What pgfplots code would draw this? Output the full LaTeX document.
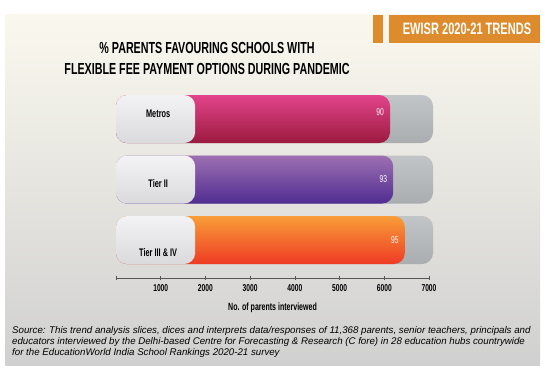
\documentclass[border=0pt]{standalone}
\usepackage{pgfplots}
\pgfplotsset{compat=1.18}
\usepackage{fontspec}
\setmainfont{Liberation Sans}
\newfontfamily\cond[FakeStretch=0.67]{Liberation Sans}
\definecolor{bgtop}{HTML}{FAF8EE}
\definecolor{bgmid}{HTML}{E8E8E6}
\definecolor{bgbot}{HTML}{D0D0D0}
\definecolor{orng}{HTML}{DD8B2C}
\definecolor{grTop}{HTML}{C2C5C7}
\definecolor{grBot}{HTML}{A9ADB0}
\definecolor{whTop}{HTML}{F3F3F5}
\definecolor{whBot}{HTML}{DADADC}
\definecolor{metTop}{HTML}{E2448A}
\definecolor{metBot}{HTML}{9A1A3F}
\definecolor{t2Top}{HTML}{9E70B2}
\definecolor{t2Bot}{HTML}{4F2D91}
\definecolor{t3Top}{HTML}{F99D38}
\definecolor{t3Bot}{HTML}{EE3B24}
\definecolor{axgray}{HTML}{555555}
\begin{document}
\begin{tikzpicture}[x=1pt,y=1pt]
\fill[white] (0,0) rectangle (545,370);
\shade[top color=bgtop, middle color=bgmid, bottom color=bgbot] (5,5) rectangle (540,355);
\fill[orng] (373,327) rectangle (383,355);
\fill[orng] (389,327) rectangle (540,355);
\node[text=white, font=\cond\bfseries\fontsize{16.5}{18}\selectfont] at (467,341) {EWISR 2020-21 TRENDS};
\node[align=center, font=\cond\bfseries\fontsize{16}{21}\selectfont] at (207,312) {\% PARENTS FAVOURING SCHOOLS WITH\\FLEXIBLE FEE PAYMENT OPTIONS DURING PANDEMIC};
\begin{axis}[
  at={(112pt,92pt)}, anchor=south west, scale only axis,
  width=321pt, height=189.2pt,
  xmin=-90, xmax=7090, ymin=0.372, ymax=3.5,
  clip=false,
  axis x line*=bottom, axis y line=none,
  x axis line style={shorten <=4pt, shorten >=4pt, draw=axgray, line width=0.7pt},
  xtick={0,1000,2000,3000,4000,5000,6000,7000},
  xticklabels={,1000,2000,3000,4000,5000,6000,7000},
  tick align=center, major tick length=4pt,
  tick style={axgray, line width=0.6pt},
  ytick=\empty,
  /pgf/number format/assume math mode=true,
  xticklabel style={font=\cond\bfseries\fontsize{10}{11}\selectfont, yshift=-0.5pt},
  xlabel={No. of parents interviewed},
  xlabel style={font=\cond\bfseries\fontsize{10.5}{12}\selectfont, yshift=-5pt},
  gb/.style={xbar, bar shift=0pt, bar width=48pt, draw=none, top color=grTop, bottom color=grBot, rounded corners=11pt},
  cb/.style={xbar, bar shift=0pt, bar width=48pt, draw=none, rounded corners=11pt,
     nodes near coords, point meta=explicit symbolic,
     every node near coord/.append style={anchor=east, xshift=-6pt, text=white, inner sep=0pt, font=\cond\fontsize{10}{11}\selectfont}},
  wb/.style={xbar, bar shift=0pt, bar width=48pt, draw=none, top color=whTop, middle color=white, bottom color=whBot, rounded corners=11pt,
     nodes near coords, point meta=explicit symbolic,
     every node near coord/.append style={anchor=center, xshift=-37pt, text=black, inner sep=0pt, font=\cond\bfseries\fontsize{11}{12}\selectfont}},
]
% gray background cylinders
\addplot[gb] coordinates {(7090,3)};
\addplot[gb] coordinates {(7090,2)};
\addplot[gb] coordinates {(7090,1)};
% coloured value bars
\addplot[cb, top color=metTop, bottom color=metBot, every node near coord/.append style={yshift=7pt}] coordinates {(6130,3) [90]};
\addplot[cb, top color=t2Top, bottom color=t2Bot] coordinates {(6200,2) [93]};
\addplot[cb, top color=t3Top, bottom color=t3Bot] coordinates {(6460,1) [95]};
% white label caps
\addplot[wb, every node near coord/.append style={yshift=5pt}] coordinates {(1770,3) [Metros]};
\addplot[wb, every node near coord/.append style={yshift=-4pt}] coordinates {(1770,2) [Tier II]};
\addplot[wb, every node near coord/.append style={yshift=-13pt}] coordinates {(1770,1) [Tier III \& IV]};
\end{axis}
\node[anchor=base west, inner sep=0pt, font=\itshape\fontsize{9.7}{11}\selectfont] at (12,37) {Source: This trend analysis slices, dices and interprets data/responses of 11,368 parents, senior teachers, principals and};
\node[anchor=base west, inner sep=0pt, font=\itshape\fontsize{9.7}{11}\selectfont] at (12,26) {educators interviewed by the Delhi-based Centre for Forecasting \& Research (C fore) in 28 education hubs countrywide};
\node[anchor=base west, inner sep=0pt, font=\itshape\fontsize{9.7}{11}\selectfont] at (12,15) {for the EducationWorld India School Rankings 2020-21 survey};
\end{tikzpicture}
\end{document}
